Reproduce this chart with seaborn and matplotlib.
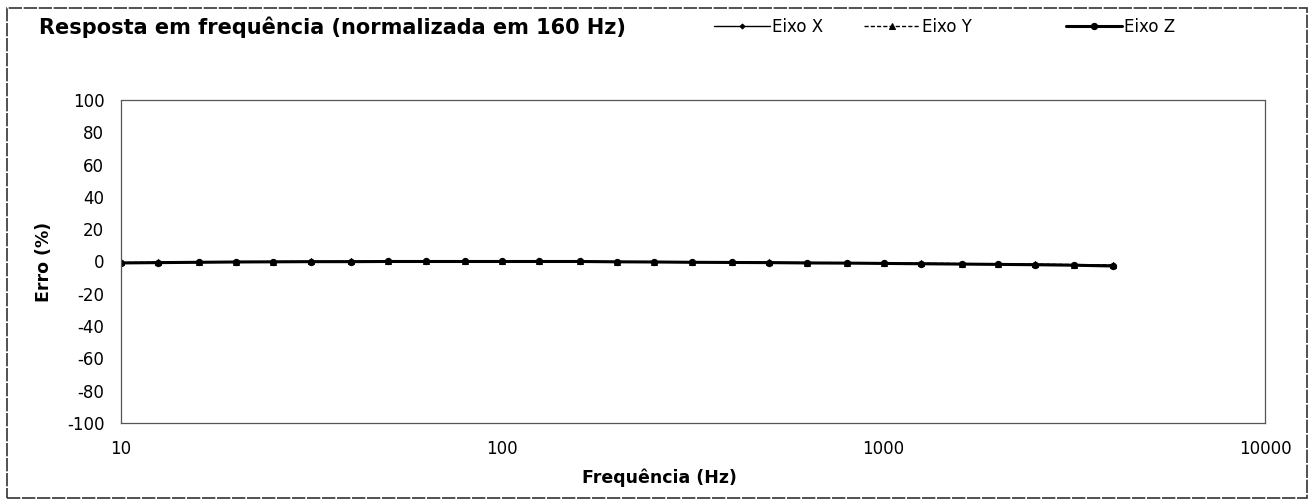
import matplotlib
matplotlib.use("Agg")
import matplotlib.pyplot as plt
import seaborn as sns
import pandas as pd
from matplotlib.patches import Rectangle

# ---- data ----
freqs = [10, 12.5, 16, 20, 25, 31.5, 40, 50, 63, 80, 100, 125, 160, 200, 250,
         315, 400, 500, 630, 800, 1000, 1250, 1600, 2000, 2500, 3150, 4000]
eixo_x = [-0.8, -0.6, -0.4, -0.2, -0.2, -0.1, 0.0, 0.0, 0.0, 0.0, 0.0, 0.0, 0.0,
          -0.2, -0.3, -0.4, -0.5, -0.6, -0.7, -0.9, -1.1, -1.2, -1.4, -1.6, -1.8, -2.0, -2.4]
eixo_y = [-0.6, -0.5, -0.3, -0.1, -0.1, 0.0, 0.1, 0.1, 0.0, 0.0, 0.0, 0.0, 0.0,
          -0.1, -0.2, -0.3, -0.4, -0.6, -0.7, -0.8, -1.0, -1.1, -1.3, -1.5, -1.7, -1.9, -2.2]
eixo_z = [-0.9, -0.7, -0.5, -0.3, -0.2, -0.1, -0.1, 0.0, 0.0, 0.0, 0.0, 0.0, 0.0,
          -0.2, -0.3, -0.5, -0.6, -0.7, -0.9, -1.0, -1.2, -1.4, -1.6, -1.8, -2.0, -2.3, -2.8]
series_names = ["Eixo X", "Eixo Y", "Eixo Z"]
yticks = [100, 80, 60, 40, 20, 0, -20, -40, -60, -80, -100]
xticks = [10, 100, 1000, 10000]
xtick_labels = ["10", "100", "1000", "10000"]

title = "Resposta em frequência (normalizada em 160 Hz)"
xlabel = "Frequência (Hz)"
ylabel = "Erro (%)"

df = pd.DataFrame({"freq": freqs * 3,
                   "erro": eixo_x + eixo_y + eixo_z,
                   "serie": [series_names[0]] * len(freqs) + [series_names[1]] * len(freqs)
                            + [series_names[2]] * len(freqs)})

sns.set_style("white")
plt.rcParams['font.family'] = ['DejaVu Sans']
plt.rcParams['axes.unicode_minus'] = False
plt.rcParams['text.color'] = 'black'
plt.rcParams['axes.labelcolor'] = 'black'
plt.rcParams['xtick.color'] = 'black'
plt.rcParams['ytick.color'] = 'black'

fig = plt.figure(figsize=(13.15, 5.01), dpi=100)
ax = fig.add_axes([0.092, 0.1557, 0.870, 0.6447])

styles = {
    "Eixo X": dict(lw=1.0, ls='-', marker='D', ms=2.5),
    "Eixo Y": dict(lw=1.0, ls=(0, (3, 1.5)), marker='^', ms=4),
    "Eixo Z": dict(lw=2.2, ls='-', marker='o', ms=4.5),
}
for name in series_names:
    sub = df[df["serie"] == name]
    st = styles[name]
    sns.lineplot(data=sub, x="freq", y="erro", ax=ax, color='black',
                 linewidth=st['lw'], linestyle=st['ls'], marker=st['marker'],
                 markersize=st['ms'], markeredgecolor='black', label=name,
                 legend=False)

ax.set_xscale('log')
ax.set_xlim(10, 10000)
ax.set_ylim(-100, 100)
ax.set_xticks(xticks)
ax.set_xticklabels(xtick_labels)
ax.minorticks_off()
ax.set_yticks(yticks)
ax.tick_params(axis='both', length=0, labelsize=12, pad=12, colors='black')
for sp in ax.spines.values():
    sp.set_color('#555555')
    sp.set_linewidth(0.9)
    sp.set_linestyle((0, (6, 1)))

ax.set_xlabel(xlabel, fontsize=12.5, fontweight='bold', color='black')
ax.set_ylabel(ylabel, fontsize=12.5, fontweight='bold', color='black')
ax.xaxis.set_label_coords(0.471, -0.142)
ax.yaxis.set_label_coords(-0.059, 0.5)

fig.text(0.030, 0.946, title, fontsize=15, fontweight='bold', va='center', ha='left',
         color='black')

handles, labels = ax.get_legend_handles_labels()
leg_x = [714 / 1315, 864 / 1315, 1066 / 1315]
for h, lab, lx in zip(handles, labels, leg_x):
    lg = fig.legend([h], [lab], loc='center left', bbox_to_anchor=(lx, 0.946),
                    frameon=False, fontsize=12, handlelength=3.35,
                    handletextpad=0.1, borderaxespad=0, borderpad=0)
    for t in lg.get_texts():
        t.set_color('black')

fig.patches.append(Rectangle((0.005, 0.006), 0.989, 0.978, transform=fig.transFigure,
                             fill=False, edgecolor='#333333', linewidth=1.2,
                             linestyle=(0, (8, 1))))

fig.savefig("out.png", dpi=100, facecolor='white')
